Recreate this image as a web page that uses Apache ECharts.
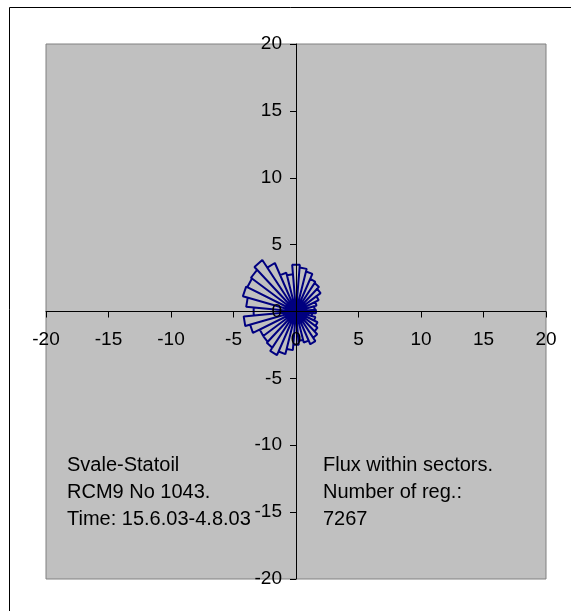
<!DOCTYPE html>
<html>
<head>
<meta charset="utf-8">
<script src="https://cdn.jsdelivr.net/npm/echarts@6/dist/echarts.min.js"></script>
<style>
html,body{margin:0;padding:0;background:#fff;}
#chart{width:571px;height:611px;}
</style>
</head>
<body>
<div id="chart"></div>
<script>
// Sector centre directions (degrees, compass, clockwise from north)
const directions = [0,10,20,30,40,50,60,70,80,90,100,110,120,130,140,150,160,170,
                    180,190,200,210,220,230,240,250,260,270,280,290,300,310,320,330,340,350];
// Flux within each sector (radius)
const flux = [3.5,3.3,3.1,2.7,2.6,2.4,2.0,1.7,1.5,1.6,1.3,1.6,1.9,2.1,2.4,2.7,2.4,2.2,
              2.5,2.9,3.3,3.6,3.3,3.2,3.2,3.8,4.2,3.4,4.0,4.4,4.3,4.4,4.7,4.0,3.0,2.8];
const sectorHalfWidth = 5;
const axisTicks = [-20,-15,-10,-5,0,5,10,15,20];
const leftText = ["Svale-Statoil", "RCM9 No 1043.", "Time: 15.6.03-4.8.03"];
const rightText = ["Flux within sectors.", "Number of reg.:", "7267"];

const rad = Math.PI / 180;
const rosePoints = [];
directions.forEach((d, i) => {
  const r = flux[i];
  const a1 = (d - sectorHalfWidth) * rad, a2 = (d + sectorHalfWidth) * rad;
  rosePoints.push([0, 0]);
  rosePoints.push([r * Math.sin(a1), r * Math.cos(a1)]);
  rosePoints.push([r * Math.sin(a2), r * Math.cos(a2)]);
  rosePoints.push([0, 0]);
});

const W = 571, H = 611;
const gridL = 46, gridR = 25, gridT = 44, gridB = 32;
const gridW = W - gridL - gridR, gridH = H - gridT - gridB;

const chart = echarts.init(document.getElementById('chart'));
const font = 'Liberation Sans, Arial, sans-serif';
const graphics = [
  { type: 'line', shape: { x1: 9.5, y1: 7.5, x2: 571, y2: 7.5 }, style: { stroke: '#000', lineWidth: 1 }, silent: true },
  { type: 'line', shape: { x1: 9.5, y1: 7.5, x2: 9.5, y2: 611 }, style: { stroke: '#000', lineWidth: 1 }, silent: true }
];
leftText.forEach((t, i) => graphics.push({
  type: 'text', left: 67, top: 455 + i * 27.3, z: 10,
  style: { text: t, font: '20px ' + font, fill: '#000' }
}));
rightText.forEach((t, i) => graphics.push({
  type: 'text', left: 323, top: 455 + i * 27.3, z: 10,
  style: { text: t, font: '20px ' + font, fill: '#000' }
}));

const axisCommon = {
  type: 'value', min: axisTicks[0], max: axisTicks[axisTicks.length - 1], interval: 5,
  z: 3,
  axisLine: { show: true, onZero: false, lineStyle: { color: '#000', width: 1 } },
  axisTick: { show: true, inside: false, length: 6, lineStyle: { color: '#000' } },
  splitLine: { show: false },
};

chart.setOption({
  animation: false,
  backgroundColor: '#fff',
  grid: { left: gridL, right: gridR, top: gridT, bottom: gridB, show: true,
          backgroundColor: '#C0C0C0', borderColor: '#808080', borderWidth: 1 },
  xAxis: Object.assign({}, axisCommon, {
    position: 'bottom', offset: -gridH / 2,
    axisLabel: { show: true, color: '#000', fontSize: 19, fontFamily: font, margin: 19,
                 showMinLabel: true, showMaxLabel: true }
  }),
  yAxis: Object.assign({}, axisCommon, {
    position: 'left', offset: -gridW / 2,
    axisLabel: { show: true, color: '#000', fontSize: 19, fontFamily: font, margin: 14,
                 showMinLabel: true, showMaxLabel: true }
  }),
  graphic: graphics,
  series: [{
    type: 'line', data: rosePoints, showSymbol: false, symbol: 'none',
    smooth: false, z: 2,
    lineStyle: { color: '#000080', width: 2 },
    itemStyle: { color: '#000080' }
  }]
});
</script>
</body>
</html>
